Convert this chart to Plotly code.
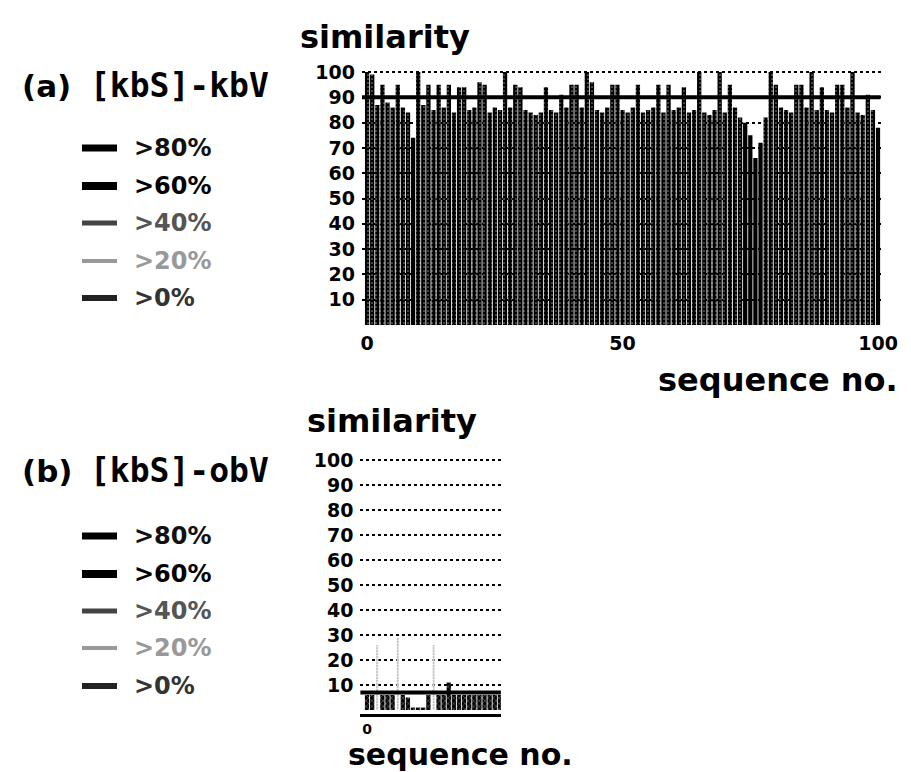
import plotly.graph_objects as go

# ---------------- data ----------------
seq_a = list(range(0, 101))
sim_a = [100, 99, 87, 95, 88, 86, 95, 86, 84, 74,
         100, 87, 95, 85, 95, 86, 95, 84, 94, 94,
         85, 86, 96, 95, 84, 86, 85, 100, 86, 95,
         94, 85, 84, 83, 84, 94, 85, 84, 91, 86,
         95, 95, 86, 100, 96, 85, 84, 86, 95, 95,
         85, 84, 86, 95, 84, 85, 86, 95, 84, 95,
         85, 86, 94, 84, 85, 100, 84, 83, 85, 100,
         84, 95, 86, 82, 80, 75, 66, 72, 82, 100,
         95, 86, 85, 84, 95, 95, 86, 100, 85, 94,
         85, 84, 95, 95, 86, 100, 84, 83, 91, 85,
         78]

seq_b = list(range(0, 27))
sim_b = [6, 6, 26, 6, 6, 6, 29, 6, 5, 1,
         1, 1, 6, 26, 6, 6, 11, 6, 6, 6,
         6, 6, 6, 6, 6, 6, 6]

bin_names = [">80%", ">60%", ">40%", ">20%", ">0%"]
bin_lower = [80, 60, 40, 20, 0]
bin_upper = [1000, 80, 60, 40, 20]

avg_a = 90
avg_b = 7

y_ticks = [10, 20, 30, 40, 50, 60, 70, 80, 90, 100]
x_ticks_a = [0, 50, 100]
x_ticks_b = [0]

title_a = ["(a)", "[kbS]-kbV"]
title_b = ["(b)", "[kbS]-obV"]
y_title = "similarity"
x_title = "sequence no."

# ---------------- styles ----------------
W, H = 911, 772

bin_style = {
    ">80%": dict(color="black", pattern=dict(shape=".", fgcolor="white", bgcolor="black", size=4, solidity=0.14)),
    ">60%": dict(color="black"),
    ">40%": dict(color="#444", pattern=dict(shape=".", fgcolor="black", bgcolor="white", size=3, solidity=0.6)),
    ">20%": dict(color="#777", pattern=dict(shape=".", fgcolor="#222", bgcolor="white", size=3, solidity=0.35)),
    ">0%": dict(color="black", pattern=dict(shape="x", fgcolor="white", bgcolor="black", size=4, solidity=0.25)),
}
bin_width = {">80%": 0.84, ">60%": 0.84, ">40%": 0.84, ">20%": 0.45, ">0%": 0.84}
legend_line = {
    ">80%": dict(color="black", width=7),
    ">60%": dict(color="black", width=8),
    ">40%": dict(color="#444", width=5),
    ">20%": dict(color="#999", width=4),
    ">0%": dict(color="#222", width=6),
}
legend_text_color = {">80%": "#111", ">60%": "black", ">40%": "#555", ">20%": "#999", ">0%": "#333"}

fig = go.Figure()

def add_bars(xs, ys, xa, ya):
    for name, lo, hi in zip(bin_names, bin_lower, bin_upper):
        px_, py_ = [], []
        for x, y in zip(xs, ys):
            if lo < y <= hi:
                px_.append(x)
                py_.append(y)
        if not px_:
            continue
        st = bin_style[name]
        fig.add_trace(go.Bar(
            x=px_, y=py_, xaxis=xa, yaxis=ya, name=name, showlegend=False,
            width=bin_width[name],
            marker=dict(color=st["color"], line=dict(width=0),
                        pattern=st.get("pattern", dict(shape=""))),
        ))

add_bars(seq_a, sim_a, "x", "y")
add_bars(seq_b, sim_b, "x2", "y2")

def px2x(p):
    return p / W

def py2y(p):
    return 1 - p / H

tickfont = dict(family="DejaVu Sans", size=19, color="black", weight="bold")
common = dict(ticks="", zeroline=False, automargin=False)

fig.update_layout(
    width=W, height=H,
    margin=dict(l=0, r=0, t=0, b=0, autoexpand=False),
    paper_bgcolor="white", plot_bgcolor="white",
    barmode="overlay",
    showlegend=False,
    xaxis=dict(domain=[px2x(362), px2x(880.6)], range=[-1, 100.5],
               tickvals=x_ticks_a, showgrid=False,
               tickfont=tickfont, ticklabelstandoff=5, anchor="y", **common),
    yaxis=dict(domain=[py2y(325), py2y(69)], range=[0, 101.2],
               tickvals=y_ticks, showgrid=True, gridcolor="black",
               griddash="dot", gridwidth=1.5,
               tickfont=tickfont, ticklabelstandoff=6, anchor="x", **common),
    xaxis2=dict(domain=[px2x(360.4), px2x(500.9)], range=[-1.3, 26.2],
                tickvals=x_ticks_b, showgrid=False,
                showline=True, linecolor="black", linewidth=3,
                tickfont=dict(family="DejaVu Sans", size=14, color="black", weight="bold"),
                ticklabelstandoff=0, anchor="y2", **common),
    yaxis2=dict(domain=[py2y(713.75), py2y(457.5)], range=[-1.5, 101],
                tickvals=y_ticks, showgrid=True, gridcolor="black",
                griddash="dot", gridwidth=1.5,
                tickfont=tickfont, ticklabelstandoff=6, anchor="x2", **common),
)

# average lines
fig.add_shape(type="line", xref="x domain", yref="y", x0=0, x1=1, y0=avg_a, y1=avg_a,
              line=dict(color="black", width=4), layer="above")
fig.add_shape(type="line", xref="x2 domain", yref="y2", x0=0, x1=1, y0=avg_b, y1=avg_b,
              line=dict(color="black", width=4), layer="above")

big = dict(family="DejaVu Sans", size=32, color="black", weight="bold")
big_b = dict(family="DejaVu Sans", size=30, color="black", weight="bold")
ann = []
def text(s, x, y, font, xanchor="center"):
    ann.append(dict(text=s, x=px2x(x), y=py2y(y), xref="paper", yref="paper",
                    showarrow=False, font=font, xanchor=xanchor, yanchor="middle"))

text(y_title, 385, 37, big)
text(x_title, 778, 380, big)
text(y_title, 392, 421, big)
text(x_title, 460, 754, big_b)

paren = dict(family="DejaVu Sans", size=31, color="black", weight="bold")
mono = dict(family="DejaVu Sans Mono", size=33, color="black", weight="bold")
text(title_a[0], 20, 86, paren, "left")
text(title_a[1], 88, 86, mono, "left")
text(title_b[0], 20, 471, paren, "left")
text(title_b[1], 88, 471, mono, "left")

leg_y_a = [148, 186, 223, 261, 298]
leg_y_b = [536, 574, 611, 648, 686]
for ys in (leg_y_a, leg_y_b):
    for name, yy in zip(bin_names, ys):
        fig.add_shape(type="line", xref="paper", yref="paper",
                      x0=px2x(82), x1=px2x(117), y0=py2y(yy), y1=py2y(yy),
                      line=legend_line[name])
        text(name, 132, yy, dict(family="DejaVu Sans", size=24, weight="bold",
                                 color=legend_text_color[name]), "left")

fig.update_layout(annotations=ann)
fig.write_html("out.html", config={"displayModeBar": False},
               post_script="document.body.style.margin='0px';document.body.style.overflow='hidden';")
